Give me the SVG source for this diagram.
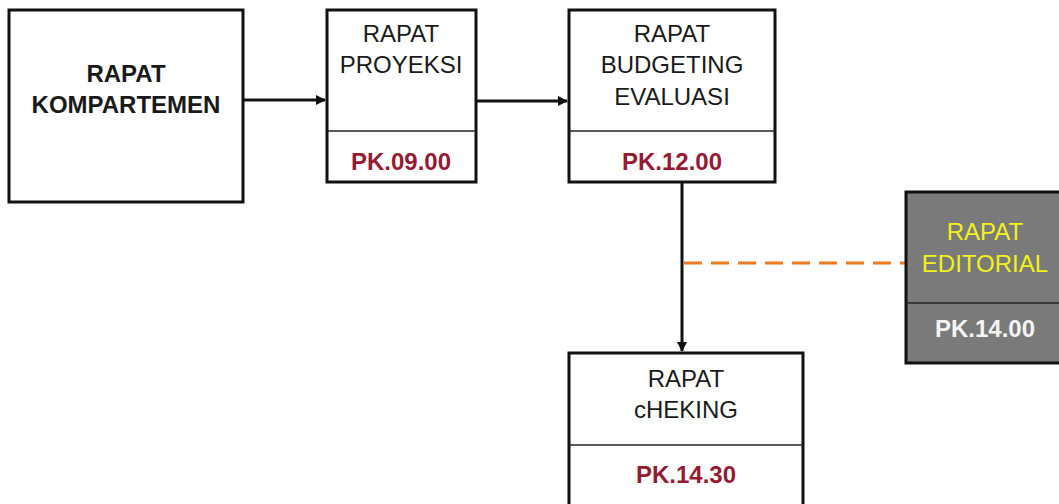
<svg xmlns="http://www.w3.org/2000/svg" width="1059" height="504" viewBox="0 0 1059 504">
<style>
.box{fill:#fff;stroke:#111;stroke-width:3}
.gbox{fill:#7a7a7a;stroke:#111;stroke-width:3}
.div{stroke:#222;stroke-width:1.5}
.t{font-family:"Liberation Sans",Arial,sans-serif;font-size:24px;text-anchor:middle;fill:#1a1a1a}
.b{font-weight:bold}
.pk{font-family:"Liberation Sans",Arial,sans-serif;font-size:24px;font-weight:bold;text-anchor:middle;fill:#951b34}
.conn{stroke:#111;stroke-width:3;fill:none}
.dash{stroke:#ee7a22;stroke-width:3;stroke-dasharray:18 9;fill:none}
</style>
<defs>
<marker id="ah" markerWidth="10" markerHeight="10" refX="9" refY="5" orient="auto" markerUnits="userSpaceOnUse">
<path d="M0,0 L10,5 L0,10 Z" fill="#111"/>
</marker>
</defs>
<rect width="1059" height="504" fill="#fff"/>
<g id="connectors">
<line class="conn" x1="244" y1="100" x2="325" y2="100" marker-end="url(#ah)"/>
<line class="conn" x1="477" y1="101" x2="567" y2="101" marker-end="url(#ah)"/>
<line class="conn" x1="682" y1="183" x2="682" y2="351" marker-end="url(#ah)"/>
<line class="dash" x1="684" y1="263" x2="905" y2="263"/>
</g>
<g id="kompartemen">
<rect class="box" x="9" y="10" width="234" height="192"/>
<text class="t b" x="126" y="82">RAPAT</text>
<text class="t b" x="126" y="113">KOMPARTEMEN</text>
</g>
<g id="proyeksi">
<rect class="box" x="327" y="10" width="149" height="172"/>
<line class="div" x1="327" y1="131" x2="476" y2="131"/>
<text class="t" x="401" y="42">RAPAT</text>
<text class="t" x="401" y="73">PROYEKSI</text>
<text class="pk" x="401" y="170">PK.09.00</text>
</g>
<g id="budgeting">
<rect class="box" x="569" y="10" width="206" height="172"/>
<line class="div" x1="569" y1="131" x2="775" y2="131"/>
<text class="t" x="672" y="42">RAPAT</text>
<text class="t" x="672" y="73">BUDGETING</text>
<text class="t" x="672" y="105">EVALUASI</text>
<text class="pk" x="672" y="170">PK.12.00</text>
</g>
<g id="cheking">
<rect class="box" x="569" y="353" width="234" height="160"/>
<line class="div" x1="569" y1="445" x2="803" y2="445"/>
<text class="t" x="686" y="387">RAPAT</text>
<text class="t" x="686" y="418">cHEKING</text>
<text class="pk" x="686" y="483">PK.14.30</text>
</g>
<g id="editorial">
<rect class="gbox" x="906" y="192" width="160" height="171"/>
<line class="div" x1="906" y1="303" x2="1066" y2="303"/>
<text class="t" x="985" y="240" style="fill:#f2f21a">RAPAT</text>
<text class="t" x="985" y="272" style="fill:#f2f21a">EDITORIAL</text>
<text class="pk" x="985" y="337" style="fill:#f4f4f4">PK.14.00</text>
</g>
</svg>
